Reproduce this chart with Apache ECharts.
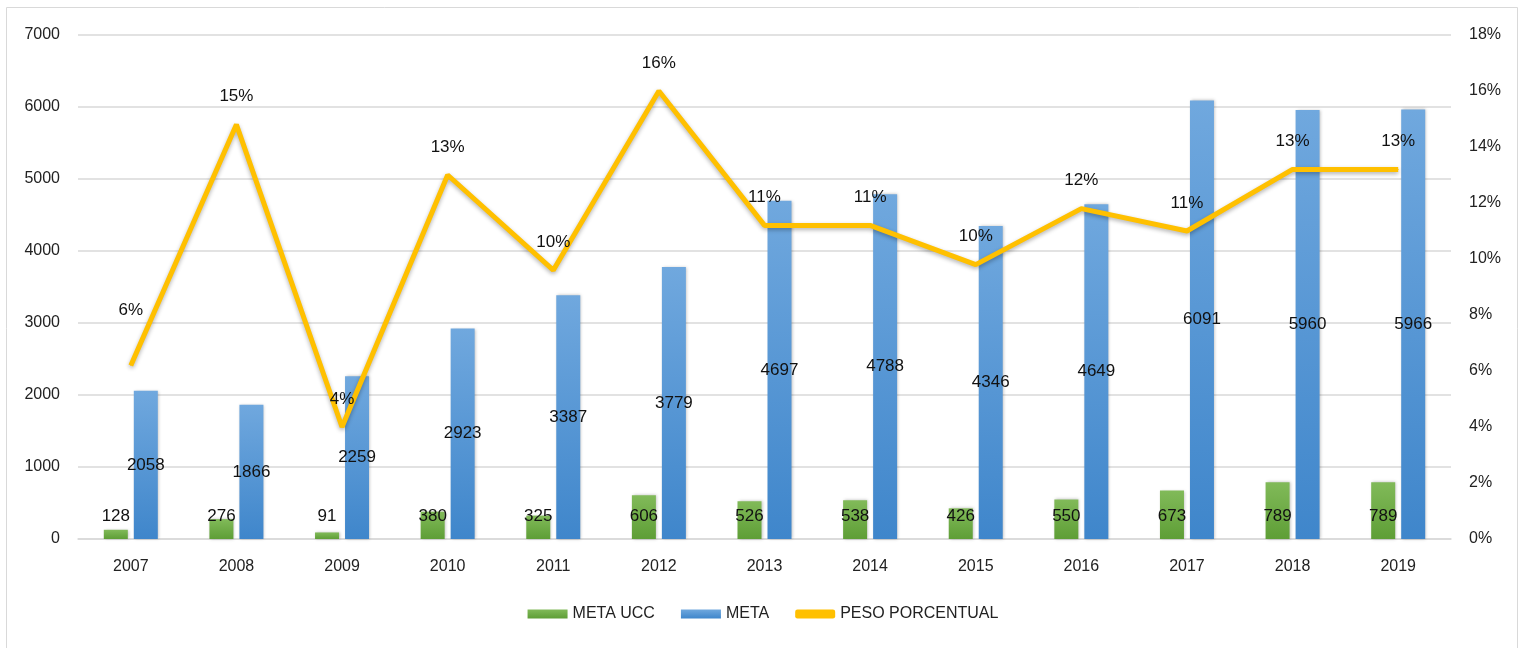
<!DOCTYPE html>
<html>
<head>
<meta charset="utf-8">
<script src="https://cdn.jsdelivr.net/npm/echarts@6/dist/echarts.min.js"></script>
<style>
  html, body { margin: 0; padding: 0; background: #fff; }
  #main { width: 1526px; height: 648px; }
</style>
</head>
<body>
<div id="main"></div>
<script>
var years = ['2007', '2008', '2009', '2010', '2011', '2012', '2013', '2014', '2015', '2016', '2017', '2018', '2019'];
var metaUcc = [128, 276, 91, 380, 325, 606, 526, 538, 426, 550, 673, 789, 789];
var meta = [2058, 1866, 2259, 2923, 3387, 3779, 4697, 4788, 4346, 4649, 6091, 5960, 5966];
var peso = [6.2, 14.8, 4.0, 13.0, 9.6, 16.0, 11.2, 11.2, 9.8, 11.8, 11.0, 13.2, 13.2];

var chartDom = document.getElementById('main');
var myChart = echarts.init(chartDom);
var font = 'Liberation Sans';
var option;

// the first percent label sits higher in the original
var pesoData = peso.map(function (v, i) {
    if (i === 0) return { value: v, label: { offset: [0, -27] } };
    return v;
});

option = {
    animation: false,
    textStyle: { fontFamily: font },
    graphic: [
        {
            type: 'rect',
            shape: { x: 6.5, y: 7.5, width: 1511, height: 650 },
            style: { fill: 'none', stroke: '#d9d9d9', lineWidth: 1 },
            silent: true
        }
    ],
    grid: { left: 78, right: 75, top: 35, bottom: 109 },
    legend: {
        bottom: 21,
        left: 'center',
        itemWidth: 40,
        itemHeight: 9,
        itemGap: 26,
        textStyle: { fontSize: 16, color: '#222', fontFamily: font },
        data: [
            { name: 'META UCC', icon: 'rect' },
            { name: 'META', icon: 'rect' },
            { name: 'PESO PORCENTUAL', icon: 'roundRect', itemStyle: { color: '#ffc000' } }
        ]
    },
    xAxis: {
        type: 'category',
        data: years,
        axisTick: { show: false },
        axisLine: { lineStyle: { color: '#d9d9d9', width: 1.5 } },
        axisLabel: { color: '#222', fontSize: 16, margin: 20 }
    },
    yAxis: [
        {
            type: 'value',
            min: 0,
            max: 7000,
            interval: 1000,
            axisLabel: { color: '#222', fontSize: 16, margin: 18, formatter: function (v) { return String(v); } },
            splitLine: { lineStyle: { color: '#d9d9d9', width: 1.5 } }
        },
        {
            type: 'value',
            min: 0,
            max: 18,
            interval: 2,
            position: 'right',
            axisLabel: { color: '#222', fontSize: 16, margin: 18, formatter: '{value}%' },
            splitLine: { show: false }
        }
    ],
    series: [
        {
            name: 'META UCC',
            type: 'bar',
            data: metaUcc,
            barWidth: 24,
            barGap: '25%',
            itemStyle: {
                color: new echarts.graphic.LinearGradient(0, 0, 0, 1, [
                    { offset: 0, color: '#81ba59' },
                    { offset: 1, color: '#5e9e36' }
                ]),
                shadowBlur: 3,
                shadowColor: 'rgba(0,0,0,0.25)',
                shadowOffsetX: 1
            },
            label: {
                show: true,
                position: 'insideBottom',
                distance: 14,
                color: '#111',
                fontSize: 17
            }
        },
        {
            name: 'META',
            type: 'bar',
            data: meta,
            barWidth: 24,
            itemStyle: {
                color: new echarts.graphic.LinearGradient(0, 0, 0, 1, [
                    { offset: 0, color: '#70a8de' },
                    { offset: 1, color: '#3f86cb' }
                ]),
                shadowBlur: 3,
                shadowColor: 'rgba(0,0,0,0.25)',
                shadowOffsetX: 1
            },
            label: {
                show: true,
                position: 'inside',
                color: '#111',
                fontSize: 17
            }
        },
        {
            name: 'PESO PORCENTUAL',
            type: 'line',
            yAxisIndex: 1,
            data: pesoData,
            symbol: 'circle',
            symbolSize: 1,
            showSymbol: true,
            lineStyle: {
                color: '#ffc000',
                width: 5,
                shadowBlur: 4,
                shadowColor: 'rgba(0,0,0,0.3)',
                shadowOffsetY: 2
            },
            itemStyle: { color: '#ffc000' },
            label: {
                show: true,
                position: 'top',
                distance: 19,
                color: '#111',
                fontSize: 17,
                formatter: function (p) { return Math.round(p.value) + '%'; }
            },
            z: 5
        }
    ]
};

option && myChart.setOption(option);
</script>
</body>
</html>
